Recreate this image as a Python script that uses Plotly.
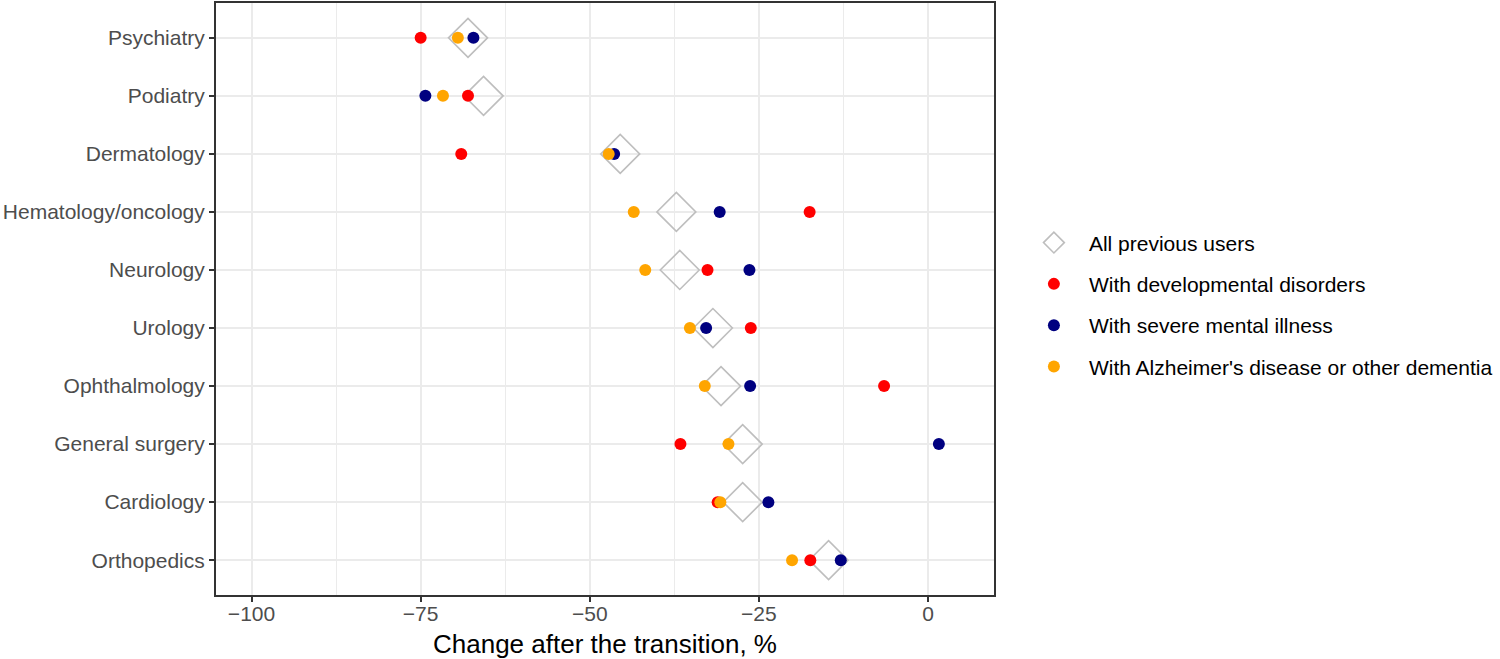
import plotly.graph_objects as go

# Categories (bottom to top)
specialties = ["Orthopedics", "Cardiology", "General surgery", "Ophthalmology", "Urology",
               "Neurology", "Hematology/oncology", "Dermatology", "Podiatry", "Psychiatry"]

all_previous = [-14.7, -27.4, -27.4, -30.6, -31.8, -36.7, -37.2, -45.5, -65.7, -68.0]
developmental = [-17.4, -31.1, -36.6, -6.5, -26.2, -32.6, -17.5, -69.0, -68.0, -75.0]
severe_mental = [-12.9, -23.6, 1.6, -26.3, -32.8, -26.4, -30.8, -46.4, -74.3, -67.2]
alzheimers = [-20.1, -30.7, -29.5, -33.0, -35.2, -41.8, -43.5, -47.2, -71.7, -69.5]

x_ticks = [-100, -75, -50, -25, 0]
x_ticktext = ["\u2212100", "\u221275", "\u221250", "\u221225", "0"]

FONT = "Liberation Sans, Arial, sans-serif"

fig = go.Figure()
fig.add_trace(go.Scatter(
    x=all_previous, y=specialties, mode="markers", name="All previous users",
    legendgroup="a",
    marker=dict(symbol="diamond-open", size=30, color="#BEBEBE", line=dict(width=1.6, color="#BEBEBE")),
))
fig.add_trace(go.Scatter(
    x=developmental, y=specialties, mode="markers", name="With developmental disorders",
    legendgroup="b",
    marker=dict(symbol="circle", size=12, color="#FF0000", line=dict(width=0)),
))
fig.add_trace(go.Scatter(
    x=severe_mental, y=specialties, mode="markers", name="With severe mental illness",
    legendgroup="c",
    marker=dict(symbol="circle", size=12, color="#000080", line=dict(width=0)),
))
fig.add_trace(go.Scatter(
    x=alzheimers, y=specialties, mode="markers", name="With Alzheimer's disease or other dementia",
    legendgroup="d",
    marker=dict(symbol="circle", size=12, color="#FFA500", line=dict(width=0)),
))

fig.update_layout(
    width=1500, height=659,
    margin=dict(l=216, r=506, t=1, b=64),
    paper_bgcolor="white", plot_bgcolor="white",
    font=dict(family=FONT, size=21, color="#000000"),
    showlegend=True,
    legend=dict(
        x=1.032, xanchor="left", y=0.49, yanchor="middle",
        font=dict(family=FONT, size=21, color="#000000"),
        itemwidth=60, tracegroupgap=11, bgcolor="rgba(0,0,0,0)",
        itemclick=False,
    ),
    xaxis=dict(
        range=[-105.25, 9.75], tickvals=x_ticks, ticktext=x_ticktext,
        showgrid=True, gridcolor="#EBEBEB", gridwidth=2.4,
        minor=dict(tick0=0, dtick=12.5, showgrid=True, gridcolor="#EBEBEB", gridwidth=1.3, ticklen=0),
        zeroline=False,
        ticks="outside", ticklen=5, tickwidth=1.6, tickcolor="#333333",
        ticklabelstandoff=-6,
        tickfont=dict(family=FONT, size=21, color="#4D4D4D"),
        showline=True, linecolor="#333333", linewidth=2, mirror=True,
        title=dict(text="Change after the transition, %", font=dict(family=FONT, size=26, color="#000000"), standoff=12),
    ),
    yaxis=dict(
        type="category", categoryorder="array", categoryarray=specialties,
        range=[-0.6, 9.6],
        showgrid=True, gridcolor="#EBEBEB", gridwidth=2.4,
        zeroline=False,
        ticks="outside", ticklen=5, tickwidth=1.6, tickcolor="#333333",
        tickfont=dict(family=FONT, size=21, color="#4D4D4D"),
        showline=True, linecolor="#333333", linewidth=2, mirror=True,
    ),
)

fig.write_html("out.html", config={"displayModeBar": False},
               post_script="document.body.style.margin='0px';")
